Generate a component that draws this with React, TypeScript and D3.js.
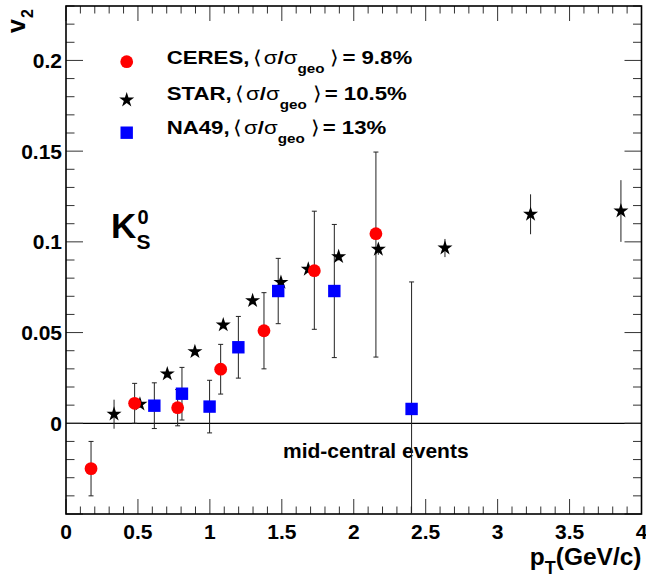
import React from "react";
import * as d3 from "d3";

const ceresPt = [0.174, 0.477, 0.776, 1.075, 1.376, 1.726, 2.154];
const ceresV2 = [-0.025, 0.011, 0.0086, 0.0298, 0.051, 0.0841, 0.1045];
const ceresErrUp = [0.015, 0.011, 0.01, 0.0137, 0.021, 0.0328, 0.045];
const ceresErrDown = [0.015, 0.011, 0.01, 0.0137, 0.021, 0.0323, 0.068];

const starPt = [0.334, 0.514, 0.704, 0.896, 1.093, 1.297, 1.494, 1.684, 1.895, 2.171, 2.634, 3.229, 3.857];
const starV2 = [0.005, 0.0105, 0.0272, 0.0395, 0.0542, 0.0676, 0.0777, 0.0849, 0.0918, 0.0959, 0.0966, 0.1152, 0.117];
const starErr = [0.008, 0.002, 0.002, 0.002, 0.002, 0.002, 0.002, 0.002, 0.002, 0.003, 0.005, 0.011, 0.017];

const na49Pt = [0.614, 0.806, 0.998, 1.198, 1.475, 1.865, 2.402];
const na49V2 = [0.0097, 0.0163, 0.0092, 0.0419, 0.0729, 0.0729, 0.0079];
const na49Err = [0.0126, 0.0145, 0.0145, 0.017, 0.018, 0.0367, 0.07];

const xTickLabels = ["0", "0.5", "1", "1.5", "2", "2.5", "3", "3.5", "4"];
const yTickLabels = ["0", "0.05", "0.1", "0.15", "0.2"];

const legendNames = ["CERES,", "STAR,", "NA49,"];
const legendValues = ["= 9.8%", "= 10.5%", "= 13%"];

const W = 646;
const H = 579;
const L = 66, R = 641.5, T = 6, B = 514;
const FONT = "'Liberation Sans', Arial, Helvetica, sans-serif";

export default function App() {
  const x = d3.scaleLinear().domain([0, 4]).range([L, R]);
  const y = d3.scaleLinear().domain([-0.05, 0.23]).range([B, T]);

  const xMajor = d3.range(0, 9).map((i) => i * 0.5);
  const xMinor = d3.range(0, 41).map((i) => i * 0.1).filter((v) => Math.abs(v * 2 - Math.round(v * 2)) > 1e-6);
  const yMajor = d3.range(-1, 5).map((i) => i * 0.05);
  const yMinor = d3.range(-5, 24).map((i) => i * 0.01).filter((v) => Math.abs(v * 20 - Math.round(v * 20)) > 1e-6);

  const star = d3.symbol(d3.symbolStar, 70)();

  const ceres = ceresPt.map((p, i) => ({ p, v: ceresV2[i], up: ceresErrUp[i], dn: ceresErrDown[i] }));
  const stars = starPt.map((p, i) => ({ p, v: starV2[i], up: starErr[i], dn: starErr[i] }));
  const na49 = na49Pt.map((p, i) => ({ p, v: na49V2[i], up: na49Err[i], dn: na49Err[i] }));

  const errBar = (d: any, key: string, cap: boolean) => {
    const cx = x(d.p);
    const y1 = y(d.v + d.up);
    const y2 = y(d.v - d.dn);
    return (
      <g key={key}>
        <line x1={cx} x2={cx} y1={y1} y2={y2} stroke="#222" strokeWidth={1} />
        {cap && <line x1={cx - 2.5} x2={cx + 2.5} y1={y1} y2={y1} stroke="#222" strokeWidth={1} />}
        {cap && <line x1={cx - 2.5} x2={cx + 2.5} y1={y2} y2={y2} stroke="#222" strokeWidth={1} />}
      </g>
    );
  };

  const legendY = [63.5, 100, 134];

  return (
    <div style={{ position: "absolute", left: 0, top: 0 }}>
      <svg width={W} height={H} style={{ display: "block", background: "#fff" }} fontFamily={FONT}>
        <defs>
          <clipPath id="plotclip">
            <rect x={L} y={T} width={R - L} height={B - T} />
          </clipPath>
        </defs>
        <rect x={0} y={0} width={W} height={H} fill="#fff" />

        {/* zero line */}
        <line x1={L} x2={R} y1={y(0)} y2={y(0)} stroke="#000" strokeWidth={1.2} />

        {/* ticks */}
        <g stroke="#333" strokeWidth={1}>
          {xMajor.map((v) => (
            <g key={"xM" + v}>
              <line x1={x(v)} x2={x(v)} y1={B} y2={B - 15} />
              <line x1={x(v)} x2={x(v)} y1={T} y2={T + 15} />
            </g>
          ))}
          {xMinor.map((v) => (
            <g key={"xm" + v}>
              <line x1={x(v)} x2={x(v)} y1={B} y2={B - 7.5} />
              <line x1={x(v)} x2={x(v)} y1={T} y2={T + 7.5} />
            </g>
          ))}
          {yMajor.map((v) => (
            <g key={"yM" + v}>
              <line x1={L} x2={L + 17} y1={y(v)} y2={y(v)} />
              <line x1={R} x2={R - 17} y1={y(v)} y2={y(v)} />
            </g>
          ))}
          {yMinor.map((v) => (
            <g key={"ym" + v}>
              <line x1={L} x2={L + 8.5} y1={y(v)} y2={y(v)} />
              <line x1={R} x2={R - 8.5} y1={y(v)} y2={y(v)} />
            </g>
          ))}
        </g>

        {/* frame */}
        <rect x={L} y={T} width={R - L} height={B - T} fill="none" stroke="#000" strokeWidth={1.6} />

        {/* tick labels */}
        <g fontWeight="bold" fontSize={21} fill="#000">
          {xTickLabels.map((t) => (
            <text key={"xl" + t} x={x(+t)} y={538.5} textAnchor="middle">{t}</text>
          ))}
          {yTickLabels.map((t) => (
            <text key={"yl" + t} x={62} y={y(+t) + 7.5} textAnchor="end">{t}</text>
          ))}
        </g>

        {/* axis titles */}
        <text x={R} y={564.5} textAnchor="end" fontWeight="bold" fontSize={24.5}>
          p<tspan fontSize={18} dy={9}>T</tspan><tspan dy={-9}>(GeV/c)</tspan>
        </text>
        <text transform="translate(24.5,33) rotate(-90)" fontWeight="bold" fontSize={25}>
          v<tspan fontSize={16} dy={8} dx={1}>2</tspan>
        </text>

        {/* K0S label */}
        <text x={111} y={238.3} fontWeight="bold" fontSize={35}>K</text>
        <text x={137.5} y={224} fontWeight="bold" fontSize={20}>0</text>
        <text x={136.5} y={249.3} fontWeight="bold" fontSize={21}>S</text>

        <text x={283} y={458.3} fontWeight="bold" fontSize={21}>mid-central events</text>

        {/* error bars */}
        <g clipPath="url(#plotclip)">
          {stars.map((d, i) => errBar(d, "se" + i, false))}
          {ceres.map((d, i) => errBar(d, "ce" + i, true))}
          {na49.map((d, i) => errBar(d, "ne" + i, true))}
        </g>

        {/* markers */}
        <g>
          {stars.map((d, i) => (
            <path key={"s" + i} d={star!} transform={`translate(${x(d.p)},${y(d.v)})`} fill="#000" />
          ))}
          {na49.map((d, i) => (
            <rect key={"n" + i} x={x(d.p) - 6.2} y={y(d.v) - 6.2} width={12.4} height={12.4} fill="#0000ff" />
          ))}
          {ceres.map((d, i) => (
            <circle key={"c" + i} cx={x(d.p)} cy={y(d.v)} r={6.4} fill="#ff0000" />
          ))}
        </g>

        {/* legend */}
        <circle cx={126.7} cy={61.7} r={6.4} fill="#ff0000" />
        <path d={star!} transform="translate(126.7,100)" fill="#000" />
        <rect x={126.7 - 6.2} y={132.7 - 6.2} width={12.4} height={12.4} fill="#0000ff" />
        {legendNames.map((n, i) => (
          <text key={"lg" + i} transform={`translate(166.7,${legendY[i]}) scale(1.17,1)`} fontWeight="bold" fontSize={19}>
            {n}
            <tspan fontWeight="normal" dx={3}>{"\u27E8"}</tspan>
            <tspan fontWeight="normal" dx={2}>σ</tspan>
            <tspan>/</tspan>
            <tspan fontWeight="normal">σ</tspan>
            <tspan fontSize={13} dy={9}>geo</tspan>
            <tspan fontWeight="normal" dy={-9} dx={5}>{"\u27E9"}</tspan>
            <tspan dx={3}>{legendValues[i]}</tspan>
          </text>
        ))}
      </svg>
    </div>
  );
}
